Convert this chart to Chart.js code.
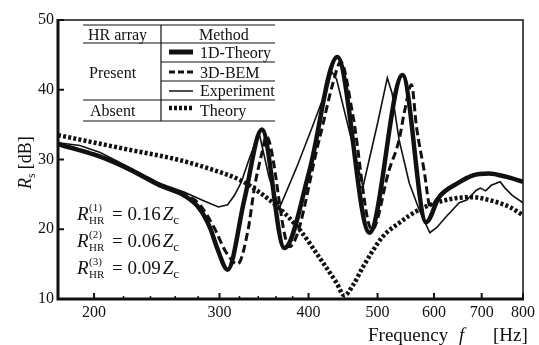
<!DOCTYPE html>
<html><head><meta charset="utf-8">
<script src="https://cdn.jsdelivr.net/npm/chart.js@4.4.1/dist/chart.umd.min.js"></script>
<style>html,body{margin:0;padding:0;background:#fff}canvas{display:block}</style>
</head><body>
<canvas id="c" width="539" height="345"></canvas>
<script>
// ---- data ----
const xTicks = [200, 300, 400, 500, 600, 700, 800];
const xMinorTicks = [220, 240, 260, 280, 320, 340, 360, 380];
const yTicks = [10, 20, 30, 40, 50];

const freq1D = [178, 204, 225, 247, 268, 281, 291, 298, 308, 325, 344, 370, 401, 439, 487, 542, 585, 610, 648, 679, 716, 759, 800];
const dB1D   = [32.2, 30.4, 28.5, 26.3, 24.8, 23.0, 20.2, 17.2, 14.2, 24.2, 34.3, 17.3, 28.3, 44.7, 19.5, 42.1, 21.0, 24.6, 26.6, 27.7, 28.0, 27.5, 26.8];

const freqBEM = [178, 204, 225, 247, 268, 281, 295, 306, 318, 329, 336, 344, 349, 376, 414, 433, 444, 461, 491, 519, 536, 545, 558, 567, 581, 593, 610, 648, 679, 716, 759, 800];
const dBBEM   = [32.3, 30.5, 28.6, 26.5, 25.0, 23.6, 20.2, 16.8, 15.0, 19.9, 26.1, 30.9, 33.3, 17.5, 32.8, 41.0, 44.0, 36.7, 19.9, 28.5, 32.8, 36.7, 40.7, 34.7, 28.5, 23.2, 24.8, 26.7, 27.7, 28.0, 27.5, 26.8];

const freqExp = [178, 191, 204, 225, 247, 268, 286, 299, 308, 315, 322, 331, 341, 352, 364, 385, 405, 425, 431, 438, 477, 500, 516, 524, 536, 554, 572, 592, 606, 624, 651, 667, 688, 697, 709, 722, 743, 755, 772, 800];
const dBExp   = [32.4, 32.0, 31.0, 28.8, 26.6, 25.3, 24.0, 23.2, 23.5, 24.9, 26.8, 30.4, 33.8, 27.5, 23.0, 28.9, 34.7, 40.4, 42.6, 41.5, 26.1, 35.2, 41.7, 39.5, 32.8, 26.6, 22.8, 19.5, 20.3, 21.8, 23.8, 24.2, 25.6, 25.9, 25.5, 26.3, 26.8, 25.9, 24.9, 23.8];

const freqAbs = [178, 219, 264, 294, 320, 338, 364, 389, 414, 438, 449, 462, 477, 508, 536, 572, 624, 679, 716, 766, 800];
const dBAbs   = [33.5, 31.6, 29.9, 28.5, 27.1, 25.6, 23.0, 19.9, 16.0, 12.3, 10.5, 12.0, 14.6, 18.9, 20.9, 22.8, 24.2, 24.6, 24.2, 23.2, 22.0];

const legendRows = ['1D-Theory', '3D-BEM', 'Experiment', 'Theory'];
const tableHead = ['HR array', 'Method'];
const groupLabels = ['Present', 'Absent'];
const rValues = ['0.16', '0.06', '0.09'];
const rIndex = ['(1)', '(2)', '(3)'];

// ---- chart ----
const SERIF = '"Liberation Serif","Times New Roman",serif';
const INK = '#111';
function pts(f, v) { return f.map((x, i) => ({ x: x, y: v[i] })); }

const overlay = {
  id: 'overlay',
  afterDraw(chart) {
    const c = chart.ctx, a = chart.chartArea;
    const xs = chart.scales.x, ys = chart.scales.y;
    c.save();
    c.strokeStyle = INK; c.fillStyle = INK; c.lineCap = 'butt';
    // frame
    c.lineWidth = 1.5;
    c.beginPath(); c.moveTo(a.left, a.top); c.lineTo(a.right, a.top); c.lineTo(a.right, a.bottom); c.stroke();
    c.lineWidth = 3;
    c.beginPath(); c.moveTo(a.left, a.top - 1); c.lineTo(a.left, a.bottom); c.lineTo(a.right + 1, a.bottom); c.stroke();
    // major/minor ticks (inward)
    c.lineWidth = 2;
    xTicks.forEach(v => { const p = xs.getPixelForValue(v); c.beginPath(); c.moveTo(p, a.bottom); c.lineTo(p, a.bottom - 6); c.stroke(); });
    c.lineWidth = 1.5;
    xMinorTicks.forEach(v => { const p = xs.getPixelForValue(v); c.beginPath(); c.moveTo(p, a.bottom); c.lineTo(p, a.bottom - 3); c.stroke(); });
    c.lineWidth = 2;
    yTicks.forEach(v => { const p = ys.getPixelForValue(v); c.beginPath(); c.moveTo(a.left, p); c.lineTo(a.left + 6, p); c.stroke(); });

    // legend table
    const x0 = 83, x1 = 161, x2 = 275;
    c.fillStyle = '#fff';
    c.fillRect(x0, 25, x2 - x0, 96);
    c.fillStyle = INK;
    c.lineWidth = 1.2;
    [25, 43, 100, 121].forEach(y => { c.beginPath(); c.moveTo(x0, y); c.lineTo(x2, y); c.stroke(); });
    [62, 81].forEach(y => { c.beginPath(); c.moveTo(x1, y); c.lineTo(x2, y); c.stroke(); });
    c.beginPath(); c.moveTo(x1, 25); c.lineTo(x1, 121); c.stroke();
    c.font = '16px ' + SERIF; c.textBaseline = 'alphabetic'; c.textAlign = 'left';
    c.fillText(tableHead[0], 88, 40);
    c.fillText(tableHead[1], 199, 40);
    c.fillText(groupLabels[0], 89, 78);
    c.fillText(groupLabels[1], 90, 116);
    const rowY = [52, 72, 91, 108];
    const rowBase = [58, 78, 96, 116];
    const styles = [
      { w: 5, d: [] }, { w: 3, d: [6, 3] }, { w: 1.5, d: [] }, { w: 4.5, d: [3, 2] }
    ];
    legendRows.forEach((t, i) => {
      c.lineWidth = styles[i].w; c.setLineDash(styles[i].d);
      c.beginPath(); c.moveTo(169, rowY[i]); c.lineTo(193, rowY[i]); c.stroke();
      c.setLineDash([]);
      c.fillText(t, 200, rowBase[i]);
    });

    // annotations
    const bases = [220, 247, 274];
    rValues.forEach((v, i) => {
      const b = bases[i];
      c.font = 'italic 19px ' + SERIF;
      c.fillText('R', 77, b);
      c.font = '11px ' + SERIF;
      c.fillText(rIndex[i], 89, b - 9);
      c.fillText('HR', 89, b + 4);
      c.font = '19px ' + SERIF;
      const s = '= ' + v;
      c.fillText(s, 112, b);
      const w = c.measureText(s).width;
      c.font = 'italic 19px ' + SERIF;
      c.fillText('Z', 114 + w, b);
      const wz = c.measureText('Z').width;
      c.font = '13px ' + SERIF;
      c.fillText('c', 114 + w + wz, b + 4);
    });

    // y-axis title (rotated)
    c.save();
    c.translate(31, 160);
    c.rotate(-Math.PI / 2);
    c.textAlign = 'left';
    c.font = 'italic 18px ' + SERIF;
    const full = 58;
    let x = -full / 2;
    c.fillText('R', x, 0); x += c.measureText('R').width;
    c.font = '12px ' + SERIF;
    c.fillText('s', x, 4); x += c.measureText('s').width + 4;
    c.font = '18px ' + SERIF;
    c.fillText('[dB]', x, 0);
    c.restore();

    // x-axis title
    c.font = '19px ' + SERIF;
    c.fillText('Frequency', 368, 341);
    c.font = 'italic 19px ' + SERIF;
    c.fillText('f', 459, 341);
    c.font = '19px ' + SERIF;
    c.fillText('[Hz]', 493, 341);
    c.restore();
  }
};

new Chart(document.getElementById('c'), {
  type: 'line',
  data: {
    datasets: [
      { label: 'Theory (absent)', data: pts(freqAbs, dBAbs), borderColor: INK, borderWidth: 4.5, borderDash: [3, 2.2], pointRadius: 0, cubicInterpolationMode: 'monotone', fill: false },
      { label: 'Experiment', data: pts(freqExp, dBExp), borderColor: INK, borderWidth: 1.6, pointRadius: 0, tension: 0, fill: false },
      { label: '3D-BEM', data: pts(freqBEM, dBBEM), borderColor: INK, borderWidth: 3, borderDash: [8, 4], pointRadius: 0, cubicInterpolationMode: 'monotone', fill: false },
      { label: '1D-Theory', data: pts(freq1D, dB1D), borderColor: INK, borderWidth: 4.5, pointRadius: 0, cubicInterpolationMode: 'monotone', fill: false }
    ]
  },
  options: {
    responsive: false, animation: false, devicePixelRatio: 1,
    layout: { padding: { left: 0, right: 14, top: 20, bottom: 0 } },
    plugins: { legend: { display: false }, tooltip: { enabled: false }, title: { display: false } },
    scales: {
      x: {
        type: 'logarithmic', min: 178, max: 800,
        afterBuildTicks: s => { s.ticks = xTicks.map(v => ({ value: v })); },
        afterFit: s => { s.height = 46; },
        ticks: { callback: v => String(v), color: INK, font: { family: SERIF, size: 16 }, padding: 4, maxRotation: 0, autoSkip: false },
        grid: { display: false, drawTicks: false },
        border: { display: false }
      },
      y: {
        type: 'linear', min: 10, max: 50,
        afterBuildTicks: s => { s.ticks = yTicks.map(v => ({ value: v })); },
        afterFit: s => { s.width = 58; },
        ticks: { color: INK, font: { family: SERIF, size: 16 }, padding: 4 },
        grid: { display: false, drawTicks: false },
        border: { display: false }
      }
    }
  },
  plugins: [overlay]
});
</script>
</body></html>
